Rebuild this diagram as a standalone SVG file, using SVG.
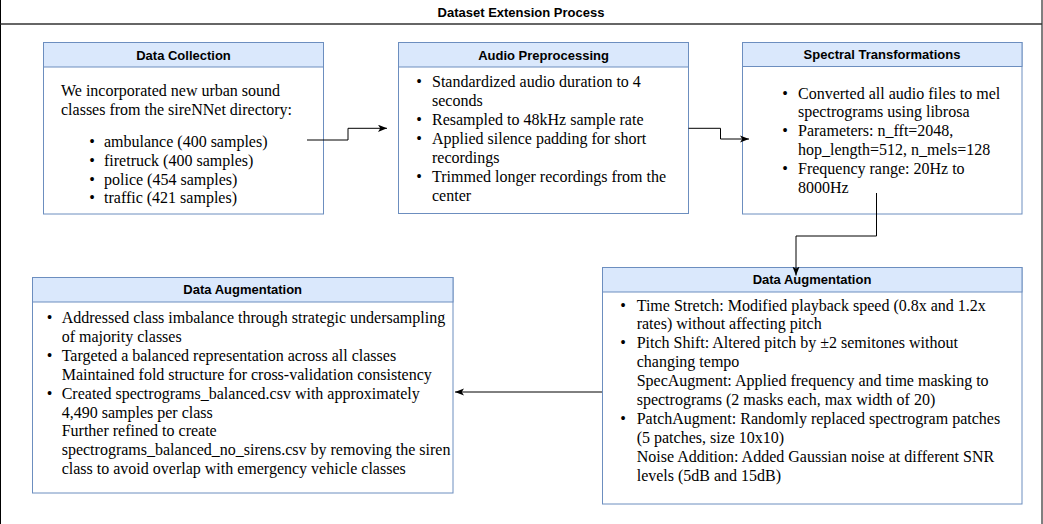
<svg xmlns="http://www.w3.org/2000/svg" width="1043" height="524" viewBox="0 0 1043 524">
<style>
.frame{fill:#fff;stroke:#000;stroke-width:1}
.hd{fill:#dae8fc;stroke:#6c8ebf;stroke-width:1}
.bd{fill:#fff;stroke:#6c8ebf;stroke-width:1}
.ttl{font-family:"Liberation Sans",Arial,sans-serif;font-weight:bold;font-size:13px;fill:#000;text-anchor:middle}
.tx{font-family:"Liberation Serif","Times New Roman",serif;font-size:16px;fill:#000}
.bu{font-family:"Liberation Serif","Times New Roman",serif;font-size:16px;fill:#000;text-anchor:middle}
.edge{fill:none;stroke:#000;stroke-width:1}
</style>
<defs>
<marker id="arr" viewBox="0 0 10 8" refX="10" refY="4" markerWidth="9" markerHeight="7.2" markerUnits="userSpaceOnUse" orient="auto">
<path d="M0,0 L10,4 L0,8 L2.5,4 z" fill="#000"/>
</marker>
</defs>
<g id="container">
<rect class="frame" x="0.5" y="-5" width="1041.5" height="540"/>
<line x1="0.5" y1="24" x2="1042" y2="24" stroke="#333" stroke-width="1.3"/>
<text class="ttl" x="521" y="16.5">Dataset Extension Process</text>
</g>
<g id="data-collection">
<rect class="bd" x="43.5" y="42.5" width="280" height="171.5"/>
<rect class="hd" x="43.5" y="42.5" width="280" height="24.5"/>
<text class="ttl" x="183.5" y="59.5">Data Collection</text>
<text class="tx" x="61" y="95.7">We incorporated new urban sound</text>
<text class="tx" x="61" y="114.6">classes from the sireNNet directory:</text>
<text class="bu" x="92" y="146.7">•</text><text class="tx" x="104" y="146.7">ambulance (400 samples)</text>
<text class="bu" x="92" y="165.6">•</text><text class="tx" x="104" y="165.6">firetruck (400 samples)</text>
<text class="bu" x="92" y="184.5">•</text><text class="tx" x="104" y="184.5">police (454 samples)</text>
<text class="bu" x="92" y="203.4">•</text><text class="tx" x="104" y="203.4">traffic (421 samples)</text>
</g>
<g id="audio-preprocessing">
<rect class="bd" x="398.5" y="42.5" width="290" height="171"/>
<rect class="hd" x="398.5" y="42.5" width="290" height="24.5"/>
<text class="ttl" x="543.5" y="59.5">Audio Preprocessing</text>
<text class="bu" x="419" y="87.3">•</text><text class="tx" x="432" y="87.3">Standardized audio duration to 4</text>
<text class="tx" x="432" y="106.2">seconds</text>
<text class="bu" x="419" y="125.1">•</text><text class="tx" x="432" y="125.1">Resampled to 48kHz sample rate</text>
<text class="bu" x="419" y="144">•</text><text class="tx" x="432" y="144">Applied silence padding for short</text>
<text class="tx" x="432" y="162.9">recordings</text>
<text class="bu" x="419" y="181.8">•</text><text class="tx" x="432" y="181.8">Trimmed longer recordings from the</text>
<text class="tx" x="432" y="200.7">center</text>
</g>
<g id="spectral-transformations">
<rect class="bd" x="742.5" y="42.5" width="279.5" height="171.5"/>
<rect class="hd" x="742.5" y="42.5" width="279.5" height="24"/>
<text class="ttl" x="882" y="59.2">Spectral Transformations</text>
<text class="bu" x="785" y="98.5">•</text><text class="tx" x="798" y="98.5">Converted all audio files to mel</text>
<text class="tx" x="798" y="117.4">spectrograms using librosa</text>
<text class="bu" x="785" y="136.3">•</text><text class="tx" x="798" y="136.3">Parameters: n_fft=2048,</text>
<text class="tx" x="798" y="155.2">hop_length=512, n_mels=128</text>
<text class="bu" x="785" y="174.1">•</text><text class="tx" x="798" y="174.1">Frequency range: 20Hz to</text>
<text class="tx" x="798" y="193">8000Hz</text>
</g>
<g id="data-augmentation-right">
<rect class="bd" x="602.5" y="267.5" width="419.5" height="236.5"/>
<rect class="hd" x="602.5" y="267.5" width="419.5" height="24.5"/>
<text class="ttl" x="812" y="284.3">Data Augmentation</text>
<text class="bu" x="623" y="310.5">•</text><text class="tx" x="636.7" y="310.5">Time Stretch: Modified playback speed (0.8x and 1.2x</text>
<text class="tx" x="636.7" y="329.4">rates) without affecting pitch</text>
<text class="bu" x="623" y="348.3">•</text><text class="tx" x="636.7" y="348.3">Pitch Shift: Altered pitch by ±2 semitones without</text>
<text class="tx" x="636.7" y="367.2">changing tempo</text>
<text class="tx" x="636.7" y="386.1">SpecAugment: Applied frequency and time masking to</text>
<text class="tx" x="636.7" y="405">spectrograms (2 masks each, max width of 20)</text>
<text class="bu" x="623" y="423.9">•</text><text class="tx" x="636.7" y="423.9">PatchAugment: Randomly replaced spectrogram patches</text>
<text class="tx" x="636.7" y="442.8">(5 patches, size 10x10)</text>
<text class="tx" x="636.7" y="461.7">Noise Addition: Added Gaussian noise at different SNR</text>
<text class="tx" x="636.7" y="480.6">levels (5dB and 15dB)</text>
</g>
<g id="data-augmentation-left">
<rect class="bd" x="32.5" y="277.5" width="420.5" height="215.5"/>
<rect class="hd" x="32.5" y="277.5" width="420.5" height="24.5"/>
<text class="ttl" x="242.7" y="294.3">Data Augmentation</text>
<text class="bu" x="49.5" y="323">•</text><text class="tx" x="61.7" y="323">Addressed class imbalance through strategic undersampling</text>
<text class="tx" x="61.7" y="341.9">of majority classes</text>
<text class="bu" x="49.5" y="360.8">•</text><text class="tx" x="61.7" y="360.8">Targeted a balanced representation across all classes</text>
<text class="tx" x="61.7" y="379.7">Maintained fold structure for cross-validation consistency</text>
<text class="bu" x="49.5" y="398.6">•</text><text class="tx" x="61.7" y="398.6">Created spectrograms_balanced.csv with approximately</text>
<text class="tx" x="61.7" y="417.5">4,490 samples per class</text>
<text class="tx" x="61.7" y="436.4">Further refined to create</text>
<text class="tx" x="61.7" y="455.3">spectrograms_balanced_no_sirens.csv by removing the siren</text>
<text class="tx" x="61.7" y="474.2">class to avoid overlap with emergency vehicle classes</text>
</g>
<g id="connectors">
<path class="edge" d="M307,140 H348 V128.3 H387" marker-end="url(#arr)"/>
<path class="edge" d="M688.5,128.3 H720.5 V139 H749" marker-end="url(#arr)"/>
<path class="edge" d="M876.5,193 V236 H796 V275.5" marker-end="url(#arr)"/>
<path class="edge" d="M602,392 H455" marker-end="url(#arr)"/>
</g>
</svg>
